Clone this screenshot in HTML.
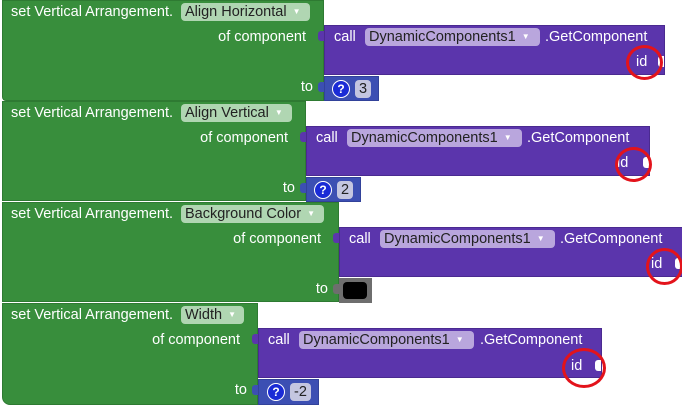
<!DOCTYPE html>
<html><head><meta charset="utf-8"><style>
*{margin:0;padding:0;box-sizing:border-box}
body{width:682px;height:405px;background:#fff;position:relative;overflow:hidden;font-family:"Liberation Sans",Arial,sans-serif;font-size:14.5px;color:#fff}
.a{position:absolute}
.g{background:#388e3c;border:1px solid #2e7a32}
.p{background:#5b35ac;border:1px solid #4a2a90}
.n{background:#3c4fb3;border:1px solid #32429a}
.dd{position:absolute;height:18px;border-radius:4px;background:#b0d6b2;color:#222;padding:0 4px;line-height:18px;white-space:nowrap;overflow:hidden}
.dp{position:absolute;height:18px;border-radius:4px;background:#b9a6dd;color:#222;padding:0 4px;line-height:18px;white-space:nowrap;overflow:hidden}
.ar{font-size:8px;color:#fff;margin-left:6px;vertical-align:2px}
.t{position:absolute;white-space:nowrap;line-height:16px}
.r{position:absolute;white-space:nowrap;line-height:16px;text-align:right}
.q{position:absolute;width:18px;height:18px;border-radius:50%;background:#1a2bd6;border:1px solid #fff;color:#fff;font-weight:bold;font-size:12px;text-align:center;line-height:16px}
.v{position:absolute;height:18px;border-radius:4px;background:#c4c6e0;color:#222;padding:0 4px;line-height:18px}
.tab{position:absolute;width:6px;height:10px;border-radius:3px 0 0 3px}
.sock{position:absolute;width:6px;height:11px;background:#fff;border-radius:3px 0 0 3px}
.rc{position:absolute;border:3px solid #e3131b;border-radius:50%}
</style></head><body>

<!-- Block 1 -->
<div class="a g" style="left:2px;top:0;width:322px;height:101px;border-radius:0 0 0 4px"></div>
<div class="t" style="left:11px;top:4px">set Vertical Arrangement.</div>
<div class="dd" style="left:181px;top:3px;width:129px">Align Horizontal<span class="ar">▼</span></div>
<div class="r" style="right:376px;top:29px">of component</div>
<div class="r" style="right:369px;top:79px">to</div>
<div class="a p" style="left:324px;top:25px;width:341px;height:50px"></div>
<div class="tab" style="left:318px;top:31px;background:#5b35ac"></div>
<div class="t" style="left:334px;top:29px">call</div>
<div class="dp" style="left:365px;top:28px;width:175px">DynamicComponents1<span class="ar">▼</span></div>
<div class="t" style="left:545px;top:29px">.GetComponent</div>
<div class="t" style="left:636px;top:54px">id</div>
<div class="sock" style="left:658px;top:56px"></div>
<div class="a n" style="left:324px;top:76px;width:55px;height:25px"></div>
<div class="tab" style="left:318px;top:82px;background:#3c4fb3"></div>
<div class="q" style="left:332px;top:80px">?</div>
<div class="v" style="left:355px;top:80px">3</div>
<div class="rc" style="left:626px;top:45px;width:37px;height:35px"></div>

<!-- Block 2 -->
<div class="a g" style="left:2px;top:101px;width:304px;height:100px"></div>
<div class="t" style="left:11px;top:105px">set Vertical Arrangement.</div>
<div class="dd" style="left:181px;top:104px;width:111px">Align Vertical<span class="ar">▼</span></div>
<div class="r" style="right:394px;top:130px">of component</div>
<div class="r" style="right:387px;top:180px">to</div>
<div class="a p" style="left:306px;top:126px;width:344px;height:50px"></div>
<div class="tab" style="left:300px;top:132px;background:#5b35ac"></div>
<div class="t" style="left:316px;top:130px">call</div>
<div class="dp" style="left:347px;top:129px;width:175px">DynamicComponents1<span class="ar">▼</span></div>
<div class="t" style="left:527px;top:130px">.GetComponent</div>
<div class="t" style="left:617px;top:155px">id</div>
<div class="sock" style="left:643px;top:157px"></div>
<div class="a n" style="left:306px;top:177px;width:55px;height:25px"></div>
<div class="tab" style="left:300px;top:183px;background:#3c4fb3"></div>
<div class="q" style="left:314px;top:181px">?</div>
<div class="v" style="left:337px;top:181px">2</div>
<div class="rc" style="left:615px;top:147px;width:37px;height:35px"></div>

<!-- Block 3 -->
<div class="a g" style="left:2px;top:202px;width:337px;height:100px"></div>
<div class="t" style="left:11px;top:206px">set Vertical Arrangement.</div>
<div class="dd" style="left:181px;top:205px;width:143px">Background Color<span class="ar">▼</span></div>
<div class="r" style="right:361px;top:231px">of component</div>
<div class="r" style="right:354px;top:281px">to</div>
<div class="a p" style="left:339px;top:227px;width:345px;height:50px"></div>
<div class="tab" style="left:333px;top:233px;background:#5b35ac"></div>
<div class="t" style="left:349px;top:231px">call</div>
<div class="dp" style="left:380px;top:230px;width:175px">DynamicComponents1<span class="ar">▼</span></div>
<div class="t" style="left:560px;top:231px">.GetComponent</div>
<div class="t" style="left:651px;top:256px">id</div>
<div class="sock" style="left:675px;top:258px"></div>
<div class="a" style="left:339px;top:278px;width:33px;height:25px;background:#6e6e6e"></div>
<div class="tab" style="left:333px;top:284px;background:#6e6e6e"></div>
<div class="a" style="left:343px;top:282px;width:24px;height:17px;background:#000;border-radius:4px"></div>
<div class="rc" style="left:646px;top:248px;width:37px;height:37px"></div>

<!-- Block 4 -->
<div class="a g" style="left:2px;top:303px;width:256px;height:102px;border-radius:0 0 0 8px"></div>
<div class="t" style="left:11px;top:307px">set Vertical Arrangement.</div>
<div class="dd" style="left:181px;top:306px;width:63px">Width<span class="ar">▼</span></div>
<div class="r" style="right:442px;top:332px">of component</div>
<div class="r" style="right:435px;top:382px">to</div>
<div class="a p" style="left:258px;top:328px;width:344px;height:50px"></div>
<div class="tab" style="left:252px;top:334px;background:#5b35ac"></div>
<div class="t" style="left:268px;top:332px">call</div>
<div class="dp" style="left:299px;top:331px;width:175px">DynamicComponents1<span class="ar">▼</span></div>
<div class="t" style="left:480px;top:332px">.GetComponent</div>
<div class="t" style="left:571px;top:358px">id</div>
<div class="sock" style="left:595px;top:360px"></div>
<div class="a n" style="left:258px;top:379px;width:61px;height:26px"></div>
<div class="tab" style="left:252px;top:385px;background:#3c4fb3"></div>
<div class="q" style="left:267px;top:383px">?</div>
<div class="v" style="left:290px;top:383px">-2</div>
<div class="rc" style="left:562px;top:348px;width:44px;height:40px"></div>

</body></html>
